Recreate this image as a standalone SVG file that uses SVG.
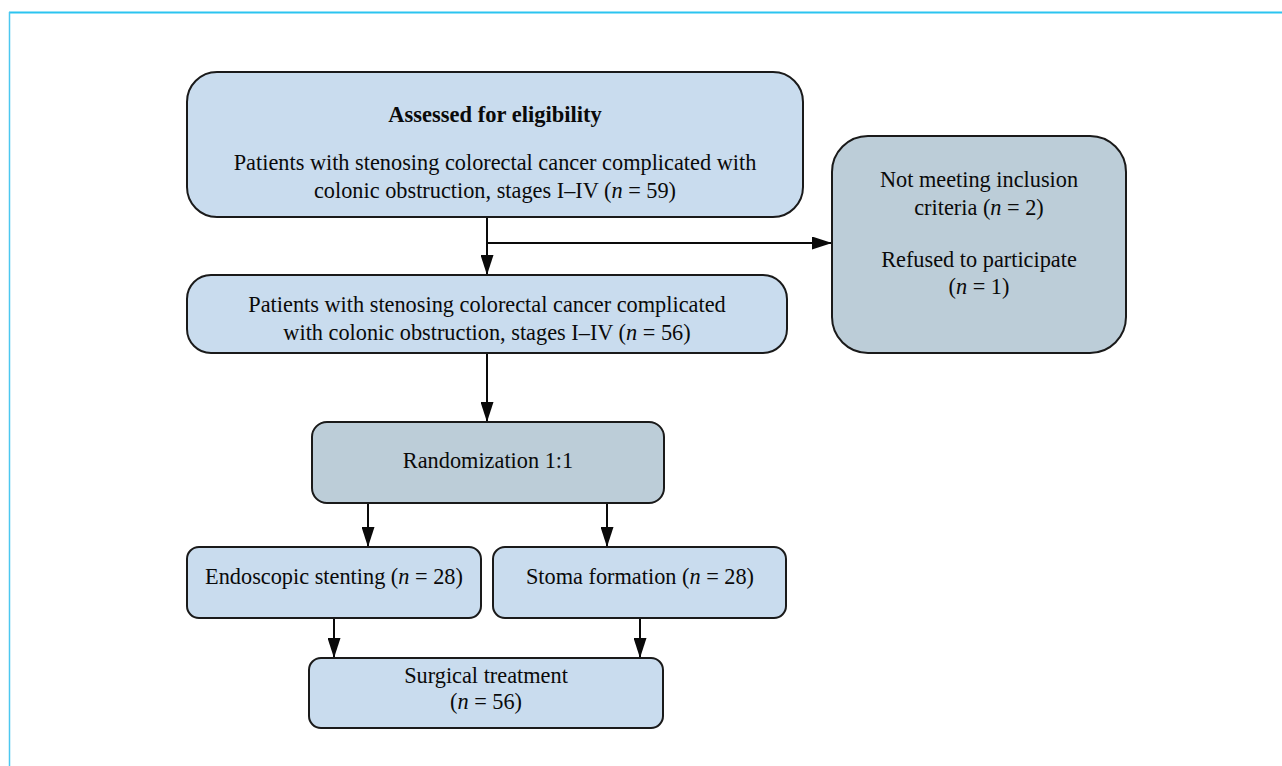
<svg xmlns="http://www.w3.org/2000/svg" width="1282" height="766" viewBox="0 0 1282 766">
<defs>
<style>
.box{fill:#c9dcee;stroke:#1a1a1a;stroke-width:2}
.gbox{fill:#bccdd8;stroke:#1a1a1a;stroke-width:2}
.t{font-family:"Liberation Serif","Times New Roman",serif;font-size:22.3px;fill:#0a0a0a;text-anchor:middle}
.b{font-weight:bold;font-size:22.5px}
.i{font-style:italic}
.c{fill:none;stroke:#0a0a0a;stroke-width:2}
</style>
<marker id="ah" viewBox="0 0 20 13" refX="20" refY="6.5" markerWidth="20" markerHeight="13" markerUnits="userSpaceOnUse" orient="auto">
<path d="M0,0 L20,6.5 L0,13 z" fill="#0a0a0a"/>
</marker>
</defs>
<rect width="1282" height="766" fill="#fff"/>
<g id="frame">
<line x1="9" y1="12.5" x2="1282" y2="12.5" stroke="#2bc4f0" stroke-width="2"/>
<line x1="9.5" y1="12" x2="9.5" y2="766" stroke="#4cc8f0" stroke-width="1.5"/>
</g>
<g id="connectors">
<line class="c" x1="487" y1="217" x2="487" y2="275" marker-end="url(#ah)"/>
<line class="c" x1="487" y1="243" x2="832" y2="243" marker-end="url(#ah)"/>
<line class="c" x1="487" y1="353" x2="487" y2="422" marker-end="url(#ah)"/>
<line class="c" x1="368" y1="503" x2="368" y2="547" marker-end="url(#ah)"/>
<line class="c" x1="607" y1="503" x2="607" y2="547" marker-end="url(#ah)"/>
<line class="c" x1="334" y1="618" x2="334" y2="658" marker-end="url(#ah)"/>
<line class="c" x1="640" y1="618" x2="640" y2="658" marker-end="url(#ah)"/>
</g>
<g id="assessed">
<rect class="box" x="187" y="72" width="616" height="145" rx="30"/>
<text class="t b" x="495" y="122">Assessed for eligibility</text>
<text class="t" x="495" y="170">Patients with stenosing colorectal cancer complicated with</text>
<text class="t" x="495" y="198">colonic obstruction, stages I–IV  (<tspan class="i">n</tspan> = 59)</text>
</g>
<g id="excluded">
<rect class="gbox" x="832" y="136" width="294" height="217" rx="36"/>
<text class="t" x="979" y="187">Not meeting inclusion</text>
<text class="t" x="979" y="215">criteria (<tspan class="i">n</tspan> = 2)</text>
<text class="t" x="979" y="267">Refused to participate</text>
<text class="t" x="979" y="294">(<tspan class="i">n</tspan> = 1)</text>
</g>
<g id="enrolled">
<rect class="box" x="187" y="275" width="600" height="78" rx="24"/>
<text class="t" x="487" y="312">Patients with stenosing colorectal cancer complicated</text>
<text class="t" x="487" y="340">with colonic obstruction, stages I–IV (<tspan class="i">n</tspan> = 56)</text>
</g>
<g id="randomization">
<rect class="gbox" x="312" y="422" width="352" height="81" rx="15"/>
<text class="t" x="488" y="468">Randomization 1:1</text>
</g>
<g id="stenting">
<rect class="box" x="187" y="547" width="294" height="71" rx="12"/>
<text class="t" x="334" y="584">Endoscopic stenting (<tspan class="i">n</tspan> = 28)</text>
</g>
<g id="stoma">
<rect class="box" x="493" y="547" width="293" height="71" rx="12"/>
<text class="t" x="640" y="584">Stoma formation (<tspan class="i">n</tspan> = 28)</text>
</g>
<g id="surgical">
<rect class="box" x="309" y="658" width="354" height="70" rx="12"/>
<text class="t" x="486" y="683">Surgical treatment</text>
<text class="t" x="486" y="709">(<tspan class="i">n</tspan> = 56)</text>
</g>
</svg>
